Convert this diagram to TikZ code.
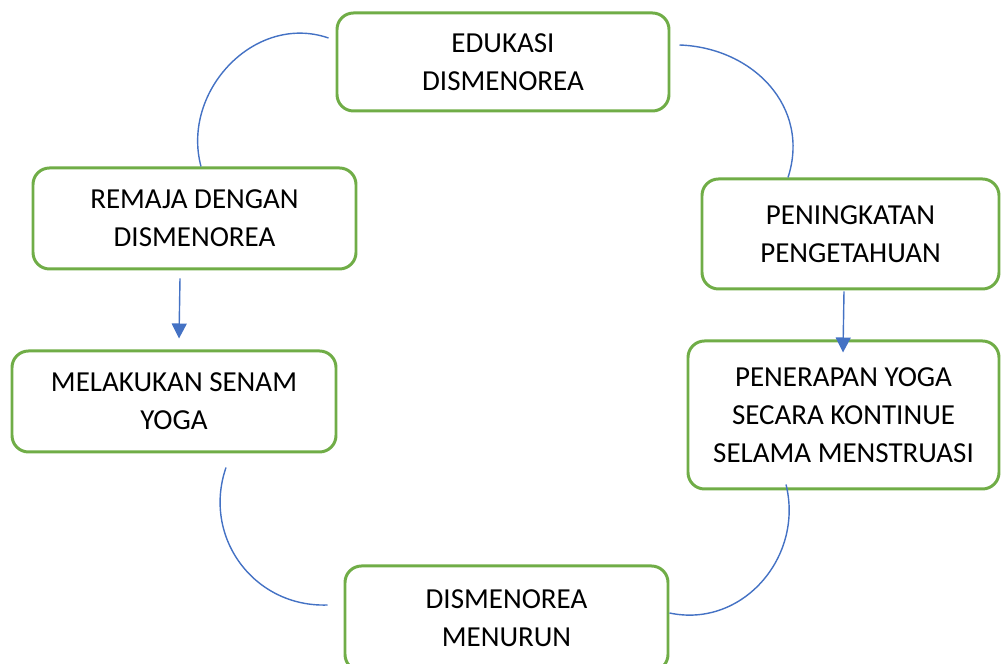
\documentclass[tikz,border=0pt]{standalone}
\usepackage{fontspec}
\setmainfont{Carlito}
\usepackage{tikz}
\usetikzlibrary{arrows.meta, calc}

\definecolor{boxgreen}{RGB}{112,173,71}
\definecolor{linkblue}{RGB}{68,114,196}

\begin{document}
\begin{tikzpicture}[
    stagebox/.style={draw=boxgreen, line width=1.7pt, rounded corners=0.33cm, inner sep=0pt, align=center, font=\fontsize{16.5}{21.5}\selectfont},
    link/.style={draw=linkblue, line width=0.8pt},
    flow/.style={link, -{Triangle[length=0.3cm, width=0.3cm]}}
]
    % Fix the page to the size of the picture
    \useasboundingbox (0,0) rectangle (20.02,13.28);
    \clip (0,0) rectangle (20.02,13.28);

    % Draw the stages of the cycle
    \node[stagebox, minimum width=6.64cm, minimum height=1.96cm] (edukasi) at (10.06,12.04) {EDUKASI\\DISMENOREA};
    \node[stagebox, minimum width=6.46cm, minimum height=2.02cm] (remaja) at (3.89,8.91) {REMAJA DENGAN\\DISMENOREA};
    \node[stagebox, minimum width=5.94cm, minimum height=2.20cm] (peningkatan) at (17.01,8.60) {PENINGKATAN\\PENGETAHUAN};
    \node[stagebox, minimum width=6.48cm, minimum height=2.02cm] (senam) at (3.48,5.25) {MELAKUKAN SENAM\\YOGA};
    \node[stagebox, minimum width=6.22cm, minimum height=2.96cm] (penerapan) at (16.87,4.98) {PENERAPAN YOGA\\SECARA KONTINUE\\SELAMA MENSTRUASI};
    \node[stagebox, minimum width=6.46cm, minimum height=2.10cm] (menurun) at (10.13,0.91) {DISMENOREA\\MENURUN};

    % End points of the curved links
    \coordinate (remajaTop) at ($(remaja.north)+(0.13,0)$);
    \coordinate (edukasiIn) at ($(edukasi.west)+(-0.14,0.48)$);
    \coordinate (edukasiOut) at ($(edukasi.east)+(0.18,0.34)$);
    \coordinate (peningkatanTop) at ($(peningkatan.north)+(-1.25,0)$);
    \coordinate (senamOut) at ($(senam.south)+(1.04,-0.28)$);
    \coordinate (menurunIn) at ($(menurun.west)+(-0.32,0.27)$);
    \coordinate (penerapanOut) at ($(penerapan.south)+(-1.15,0.12)$);
    \coordinate (menurunOut) at ($(menurun.east)+(0,0.11)$);

    % End points of the arrows
    \coordinate (remajaOut) at ($(remaja.south)+(-0.29,-0.16)$);
    \coordinate (senamIn) at ($(senam.north)+(0.10,0.22)$);
    \coordinate (peningkatanOut) at ($(peningkatan.south)+(-0.13,-0.02)$);
    \coordinate (penerapanIn) at ($(penerapan.north)+(-0.01,-0.26)$);

    % Curved links of the cycle
    \draw[link] (remajaTop) to[out=105, in=161, looseness=1.1] (edukasiIn);
    \draw[link] (edukasiOut) to[out=-2, in=72, looseness=1.1] (peningkatanTop);
    \draw[link] (senamOut) to[out=-109, in=182, looseness=1.1] (menurunIn);
    \draw[link] (penerapanOut) to[out=-76, in=-12, looseness=1.1] (menurunOut);

    % Straight arrows
    \draw[flow] (remajaOut) -- (senamIn);
    \draw[flow] (peningkatanOut) -- (penerapanIn);
\end{tikzpicture}
\end{document}
